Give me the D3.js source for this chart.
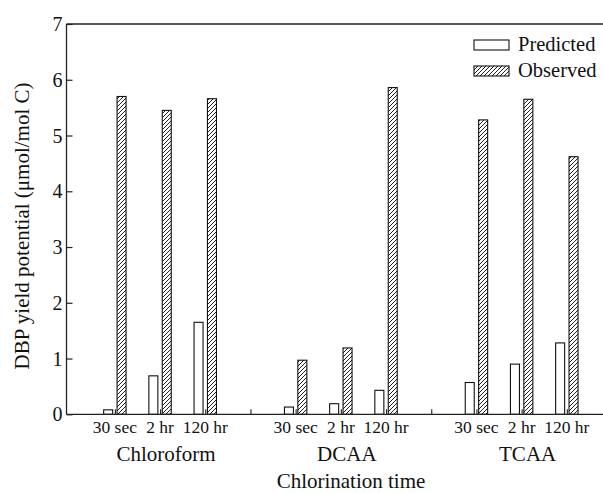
<!DOCTYPE html>
<html>
<head>
<meta charset="utf-8">
<script src="https://cdn.jsdelivr.net/npm/d3@7/dist/d3.min.js"></script>
<style>
  html, body { margin: 0; padding: 0; background: #fff; }
  svg { display: block; }
</style>
</head>
<body>
<svg id="chart" width="603" height="493"></svg>
<script>
// ---- data ----
const groups = ["Chloroform", "DCAA", "TCAA"];
const times = ["30 sec", "2 hr", "120 hr"];
const predicted = [0.08, 0.69, 1.65, 0.13, 0.19, 0.43, 0.57, 0.90, 1.28];
const observed  = [5.70, 5.45, 5.66, 0.97, 1.19, 5.86, 5.28, 5.65, 4.62];
const yTicks = [0, 1, 2, 3, 4, 5, 6, 7];
const seriesNames = ["Predicted", "Observed"];
const yTitle = "DBP yield potential (\u03bcmol/mol C)";
const xTitle = "Chlorination time";

// ---- layout ----
const FONT = "'Liberation Serif', 'Times New Roman', serif";
const mLeft = 66.5, mRight = 603, mTop = 24, mBottom = 414.3;
const svg = d3.select("#chart");

const x = d3.scaleLinear().domain([-0.07, 11.8]).range([mLeft, mRight]);
const y = d3.scaleLinear().domain([0, 7]).range([mBottom, mTop]);

const defs = svg.append("defs");
const pat = defs.append("pattern")
  .attr("id", "hatch").attr("patternUnits", "userSpaceOnUse")
  .attr("width", 4).attr("height", 4);
pat.append("rect").attr("width", 4).attr("height", 4).attr("fill", "#fff");
pat.append("path")
  .attr("d", "M-1,1 l2,-2 M0,4 l4,-4 M3,5 l2,-2")
  .attr("stroke", "#222").attr("stroke-width", 1);

const rows = [];
groups.forEach((g, gi) => {
  times.forEach((t, ti) => {
    const k = gi * times.length + ti;
    rows.push({ group: g, time: t, pos: 1 + 4 * gi + ti, pred: predicted[k], obs: observed[k] });
  });
});
const separators = [4, 8];
const barW = 9, gap = 2.2;

svg.append("g").selectAll("rect").data(rows).join("rect")
  .attr("x", d => x(d.pos) - gap - barW)
  .attr("y", d => y(d.pred))
  .attr("width", barW)
  .attr("height", d => y(0) - y(d.pred))
  .attr("fill", "#fff").attr("stroke", "#111").attr("stroke-width", 1.1);

svg.append("g").selectAll("rect").data(rows).join("rect")
  .attr("x", d => x(d.pos) + gap)
  .attr("y", d => y(d.obs))
  .attr("width", barW)
  .attr("height", d => y(0) - y(d.obs))
  .attr("fill", "url(#hatch)").attr("stroke", "#111").attr("stroke-width", 1.1);

const yAxis = d3.axisLeft(y).tickValues(yTicks).tickSize(-6).tickPadding(10).tickFormat(d3.format("d"));
const gy = svg.append("g").attr("transform", `translate(${mLeft},0)`).call(yAxis)
  .attr("font-family", null).attr("font-size", null);
gy.select(".domain").remove();
gy.selectAll(".tick line").attr("stroke", "#222").attr("stroke-width", 1.2);
gy.selectAll(".tick text").attr("x", -4).attr("dy", "0.33em").attr("fill", "#111")
  .style("font-family", FONT).style("font-size", "20px");

const tickPos = rows.map(d => d.pos).concat(separators);
const xAxis = d3.axisBottom(x).tickValues(tickPos).tickSize(-5).tickFormat("");
const gx = svg.append("g").attr("transform", `translate(0,${mBottom})`).call(xAxis);
gx.select(".domain").remove();
gx.selectAll(".tick line").attr("stroke", "#222").attr("stroke-width", 1.1);

svg.append("line").attr("x1", mLeft).attr("x2", mLeft).attr("y1", mTop).attr("y2", mBottom)
  .attr("stroke", "#222").attr("stroke-width", 1.3);
svg.append("line").attr("x1", mLeft).attr("x2", mRight).attr("y1", mBottom).attr("y2", mBottom)
  .attr("stroke", "#222").attr("stroke-width", 1.3);
svg.append("line").attr("x1", mLeft).attr("x2", mRight).attr("y1", mTop).attr("y2", mTop)
  .attr("stroke", "#222").attr("stroke-width", 1.3);

svg.append("g").selectAll("text").data(rows).join("text")
  .attr("x", d => x(d.pos)).attr("y", 433)
  .attr("text-anchor", "middle").attr("fill", "#111")
  .style("font-family", FONT).style("font-size", "17.5px")
  .text(d => d.time);

svg.append("g").selectAll("text").data(groups).join("text")
  .attr("x", (d, i) => x(2 + 4 * i) + 6).attr("y", 461)
  .attr("text-anchor", "middle").attr("fill", "#111")
  .style("font-family", FONT).style("font-size", "21px")
  .text(d => d);

svg.append("text").attr("x", 351).attr("y", 487.5)
  .attr("text-anchor", "middle").attr("fill", "#111")
  .style("font-family", FONT).style("font-size", "21px").text(xTitle);

svg.append("text").attr("transform", "translate(29,226) rotate(-90)")
  .attr("text-anchor", "middle").attr("fill", "#111")
  .style("font-family", FONT).style("font-size", "21px").text(yTitle);

const lg = svg.append("g");
seriesNames.forEach((s, i) => {
  const yy = 40 + i * 26;
  lg.append("rect").attr("x", 474).attr("y", yy).attr("width", 35).attr("height", 10)
    .attr("fill", i === 0 ? "#fff" : "url(#hatch)").attr("stroke", "#111").attr("stroke-width", 1.1);
  lg.append("text").attr("x", 518).attr("y", yy + 11).attr("fill", "#111")
    .style("font-family", FONT).style("font-size", "20.5px").text(s);
});
</script>
</body>
</html>
